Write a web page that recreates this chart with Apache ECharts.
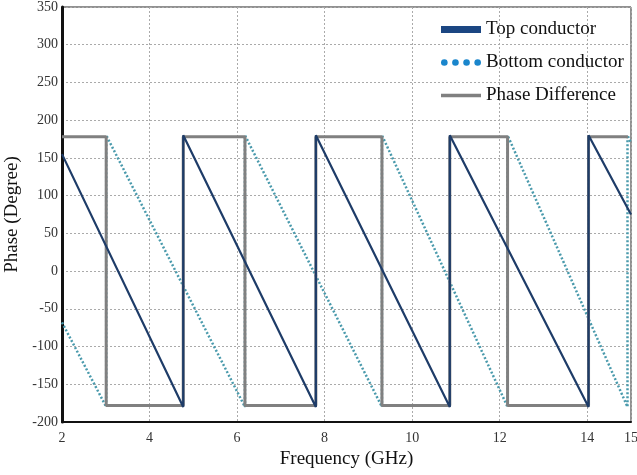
<!DOCTYPE html>
<html>
<head>
<meta charset="utf-8">
<script src="https://cdn.jsdelivr.net/npm/echarts@6/dist/echarts.min.js"></script>
<style>
  html, body { margin: 0; padding: 0; background: #fff; }
  #chart { width: 637px; height: 475px; }
</style>
</head>
<body>
<div id="chart"></div>
<script>
// values (frequency in GHz, phase in degrees)
var topFreq = [2, 4.77, 4.77, 7.8, 7.8, 10.86, 10.86, 14.03, 14.03, 15];
var topPhase = [155, -180, 180, -180, 180, -180, 180, -180, 180, 75];

var bottomFreq = [2, 3.01, 3.01, 6.18, 6.18, 9.31, 9.31, 12.18, 12.18, 14.92, 14.92, 15];
var bottomPhase = [-68, -180, 180, -180, 180, -180, 180, -180, 180, -180, 180, 170];

var diffFreq = [2, 3.01, 3.01, 4.77, 4.77, 6.18, 6.18, 7.8, 7.8, 9.31, 9.31, 10.86, 10.86, 12.18, 12.18, 14.03, 14.03, 14.93];
var diffPhase = [178, 178, -178, -178, 178, 178, -178, -178, 178, 178, -178, -178, 178, 178, -178, -178, 178, 178];

var seriesNames = ['Top conductor', 'Bottom conductor', 'Phase Difference'];

function pairs(xs, ys) {
  return xs.map(function (x, i) { return [x, ys[i]]; });
}

var serif = '"Liberation Serif", "DejaVu Serif", serif';
var dotsIcon = 'path://M3,0A3,3 0 1,1 3,6A3,3 0 1,1 3,0Z M13,0A3,3 0 1,1 13,6A3,3 0 1,1 13,0Z M23,0A3,3 0 1,1 23,6A3,3 0 1,1 23,0Z M33,0A3,3 0 1,1 33,6A3,3 0 1,1 33,0Z';

var chart = echarts.init(document.getElementById('chart'));
chart.setOption({
  animation: false,
  backgroundColor: '#fff',
  grid: {
    left: 62, right: 6, top: 7, bottom: 53,
    outerBoundsMode: 'none',
    show: true, borderColor: '#222', borderWidth: 1
  },
  legend: {
    orient: 'vertical',
    left: 436, top: 15,
    itemWidth: 40, itemHeight: 12,
    itemGap: 14,
    textStyle: { fontFamily: serif, fontSize: 19, color: '#111' },
    data: [
      { name: seriesNames[0], icon: 'path://M0,0H40V7H0Z', itemStyle: { color: '#1b4682' } },
      { name: seriesNames[1], icon: dotsIcon, itemStyle: { color: '#1a86cc' } },
      { name: seriesNames[2], icon: 'path://M0,0H34V3H0Z', itemStyle: { color: '#808080' } }
    ]
  },
  xAxis: {
    type: 'value',
    min: 2, max: 15, interval: 2,
    name: 'Frequency (GHz)',
    nameLocation: 'middle',
    nameGap: 27,
    nameTextStyle: { fontFamily: serif, fontSize: 19, color: '#111' },
    axisLine: { onZero: false, lineStyle: { color: '#111', width: 2 } },
    axisTick: { show: false },
    axisLabel: { fontFamily: serif, fontSize: 14, color: '#333', margin: 9 },
    splitLine: { lineStyle: { color: '#aaa', type: [2, 2], width: 1 } }
  },
  yAxis: {
    type: 'value',
    min: -200, max: 350, interval: 50,
    name: 'Phase (Degree)',
    nameLocation: 'middle',
    nameGap: 37,
    nameTextStyle: { fontFamily: serif, fontSize: 19, color: '#111' },
    axisLine: { show: true, onZero: false, lineStyle: { color: '#111', width: 3 } },
    axisTick: { show: false },
    axisLabel: { fontFamily: serif, fontSize: 14, color: '#333', margin: 4 },
    splitLine: { lineStyle: { color: '#aaa', type: [2, 2], width: 1 } }
  },
  series: [
    {
      name: seriesNames[1],
      type: 'line',
      showSymbol: false,
      z: 2,
      color: '#4a9aac',
      lineStyle: { color: '#4a9aac', width: 2.5, type: [2, 2] },
      data: pairs(bottomFreq, bottomPhase)
    },
    {
      name: seriesNames[2],
      type: 'line',
      showSymbol: false,
      z: 3,
      color: '#808080',
      lineStyle: { color: '#808080', width: 3 },
      data: pairs(diffFreq, diffPhase)
    },
    {
      name: seriesNames[0],
      type: 'line',
      showSymbol: false,
      z: 4,
      color: '#1e3c68',
      lineStyle: { color: '#1e3c68', width: 2.2 },
      data: pairs(topFreq, topPhase)
    }
  ]
});
</script>
</body>
</html>
